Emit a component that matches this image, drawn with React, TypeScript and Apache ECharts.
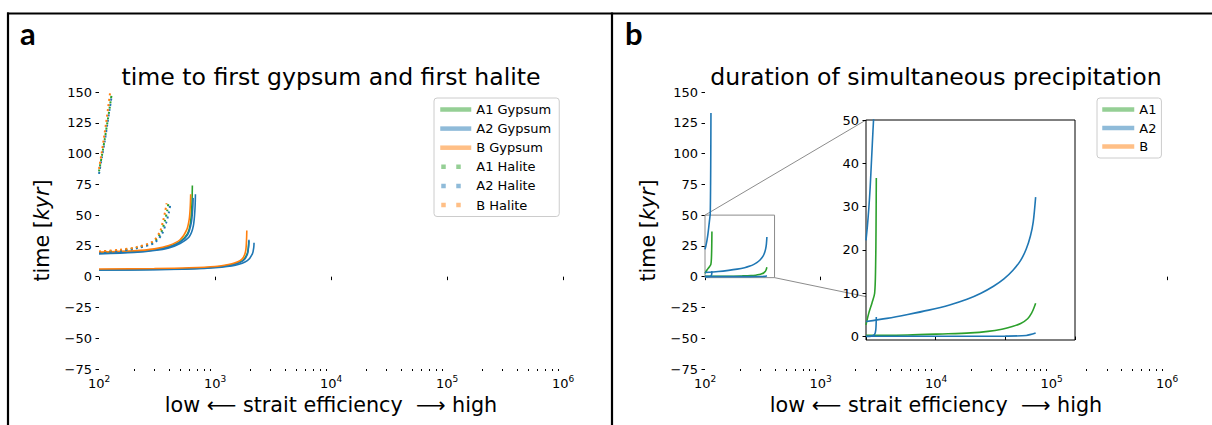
import React, { useEffect, useRef } from 'react';
import * as echarts from 'echarts';

type Pt = [number, number];

const FONT = 'DejaVu Sans';
const GREEN = '#2ca02c';
const BLUE = '#1f77b4';
const ORANGE = '#ff7f0e';

// ---- tick definitions ----
const xMin = 100;
const xMax = 1000000;
const yMin = -75;
const yMax = 150;
const yStep = 25;
const minorDecades = [100, 1000, 10000, 100000];
const minorMultipliers = [2, 3, 4, 5, 6, 7, 8, 9];
const insetXMin = 100;
const insetXMax = 400;
const insetXStep = 100;
const insetYMin = -0.8;
const insetYMax = 50;
const insetYTicks = [0, 10, 20, 30, 40, 50];

// ---- panel a: time to first gypsum (solid) ----
const gypHiA1: Pt[] = [[100, 19.3], [200, 20.3], [300, 22], [400, 24.5], [500, 28.5], [580, 35], [615, 44], [632, 58], [638, 74]];
const gypHiA2a: Pt[] = [[100, 19], [200, 20], [300, 21.6], [400, 24], [500, 28], [580, 34], [625, 44], [643, 56], [648, 64]];
const gypHiA2b: Pt[] = [[100, 18.5], [200, 19.6], [300, 21.2], [400, 23.4], [500, 27], [600, 32.5], [650, 41], [672, 55], [678, 67]];
const gypHiB: Pt[] = [[100, 20], [200, 21], [300, 22.6], [400, 25.3], [500, 30], [570, 38], [600, 47], [612, 57], [617, 67]];
const gypLoA1: Pt[] = [[100, 5.6], [300, 6], [600, 6.6], [1000, 7.8], [1400, 9.8], [1750, 13.5], [1900, 19], [1945, 25], [1955, 29]];
const gypLoA2a: Pt[] = [[100, 5.4], [300, 5.8], [600, 6.4], [1000, 7.6], [1400, 9.5], [1750, 13], [1900, 18], [1950, 25], [1962, 30]];
const gypLoA2b: Pt[] = [[100, 5.4], [300, 5.7], [600, 6.2], [1000, 7.2], [1500, 9.3], [1900, 13], [2100, 18.5], [2160, 24], [2170, 27.5]];
const gypLoB: Pt[] = [[100, 6.2], [300, 6.6], [600, 7.2], [1000, 8.3], [1400, 10.5], [1700, 14], [1830, 20], [1870, 30], [1880, 37.5]];

// ---- panel a: time to first halite (dotted) ----
const halLoA1: Pt[] = [[100, 20], [150, 21.3], [210, 23.5], [295, 28], [343, 36], [370, 45.5], [388, 54], [398, 61]];
const halLoA2: Pt[] = [[100, 19.5], [150, 20.8], [210, 23], [300, 27.5], [350, 35], [380, 44], [400, 52], [410, 57.5]];
const halLoB: Pt[] = [[100, 20.5], [150, 21.8], [210, 24], [290, 28.5], [335, 36.5], [358, 46], [372, 53], [383, 59.6]];
const halHiA1: Pt[] = [[100, 85.5], [106, 98.5], [112, 111.5], [118, 125], [124, 138], [128, 147]];
const halHiA2: Pt[] = [[100, 83.5], [106, 97], [112, 110], [118, 124], [124, 137], [129, 147.5]];
const halHiB: Pt[] = [[100, 87.5], [105, 99.5], [110, 112], [115, 124.5], [120, 137.5], [125, 150.5]];

// ---- panel b: duration of simultaneous precipitation ----
const durA2Steep: Pt[] = [[100, 22.2], [102, 25.5], [104, 29.5], [106, 34.5], [108, 41], [110, 47.5], [111, 51], [111.8, 75], [112.3, 105], [112.6, 133]];
const durA1Steep: Pt[] = [[100, 2.7], [104, 5.4], [108.5, 7.7], [112.4, 10], [113.8, 16.2], [114.4, 25], [114.8, 36.6]];
const durA2Spike: Pt[] = [[100, 0], [108, 0.1], [112, 0.4], [114, 1.5], [114.8, 4.5]];
const durA2Long: Pt[] = [[100, 3.46], [130, 4.2], [160, 5.1], [190, 6.1], [220, 7.3], [245, 8.6], [265, 10], [283, 11.6], [298, 13.3], [311, 15.3], [322, 17.6], [330, 20.2], [336, 23.2], [340, 26.4], [343.5, 32.2]];
const durA1Long: Pt[] = [[100, 0.3], [160, 0.35], [210, 0.6], [250, 0.85], [275, 1.2], [295, 1.7], [310, 2.3], [322, 3], [332, 4.1], [338, 5.5], [341, 6.6], [343.5, 7.7]];
const durA2Flat: Pt[] = [[100, 0.05], [200, 0.05], [300, 0.1], [330, 0.25], [343.5, 0.8]];
const durB: Pt[] = [];

const supDigits = (v: number) => `{b|10}{s|${Math.round(Math.log10(v))}}`;
const minusFmt = (v: number) => (v < 0 ? '\u2212' + Math.abs(v) : String(v));

const line = (name: string, data: Pt[], color: string, axis: number, dotted = false) => ({
  type: 'line',
  name,
  data,
  xAxisIndex: axis,
  yAxisIndex: axis,
  symbol: 'none',
  showSymbol: false,
  smooth: 0.3,
  clip: true,
  silent: true,
  lineStyle: dotted
    ? { color, width: 2, type: [2, 3.3] }
    : { color, width: 1.6, type: 'solid' },
  itemStyle: { color },
  emphasis: { disabled: true },
});

const mainX = (gridIndex: number) => ({
  gridIndex,
  type: 'log',
  logBase: 10,
  min: xMin,
  max: xMax,
  axisLine: { show: false },
  axisTick: { show: true, length: 3.5, lineStyle: { color: '#000', width: 1 } },
  splitLine: { show: false },
  minorTick: { show: false },
  axisLabel: {
    margin: 5,
    formatter: supDigits,
    rich: {
      b: { fontFamily: FONT, fontSize: 13, color: '#000', lineHeight: 16, verticalAlign: 'bottom' },
      s: { fontFamily: FONT, fontSize: 9, color: '#000', lineHeight: 9, verticalAlign: 'top' },
    },
  },
  name: 'low \u27F5 strait efficiency  \u27F6 high',
  nameLocation: 'middle',
  nameGap: 25,
  nameTextStyle: { fontFamily: FONT, fontSize: 20.7, color: '#000' },
});

const mainY = (gridIndex: number) => ({
  gridIndex,
  type: 'value',
  min: yMin,
  max: yMax,
  interval: yStep,
  axisLine: { show: false },
  axisTick: { show: true, length: 3.5, lineStyle: { color: '#000', width: 1 } },
  splitLine: { show: false },
  axisLabel: { margin: 7, formatter: minusFmt, fontFamily: FONT, fontSize: 13, color: '#000' },
  name: 'time [{i|kyr}]',
  nameLocation: 'middle',
  nameRotate: 90,
  nameGap: 47,
  nameTextStyle: {
    fontFamily: FONT,
    fontSize: 20.7,
    color: '#000',
    rich: { i: { fontFamily: FONT, fontSize: 20.7, fontStyle: 'italic', color: '#000' } },
  },
});

const legendBase = {
  orient: 'vertical',
  itemHeight: 14,
  itemGap: 5.5,
  borderColor: '#cccccc',
  borderWidth: 1,
  borderRadius: 3,
  backgroundColor: '#ffffff',
  selectedMode: false,
  textStyle: { fontFamily: FONT, fontSize: 13, color: '#000' },
};
const hideSym = { opacity: 0 };
const solidIcon = { width: 4.5, opacity: 0.5, type: 'solid' };
const dotIcon = { width: 4.5, opacity: 0.5, type: [4.5, 10.5], dashOffset: -1 };

const option: any = {
  animation: false,
  backgroundColor: '#ffffff',
  title: [
    { text: 'a', left: 20, top: 17, padding: 0, textStyle: { fontFamily: 'Lato', fontWeight: 'bold', fontSize: 31, color: '#000' } },
    { text: 'b', left: 625, top: 17, padding: 0, textStyle: { fontFamily: 'Lato', fontWeight: 'bold', fontSize: 31, color: '#000' } },
    {
      text: 'time to first gypsum and first halite',
      left: 331,
      textAlign: 'center',
      top: 65,
      padding: 0,
      textStyle: { fontFamily: FONT, fontSize: 23.6, fontWeight: 'normal', color: '#000' },
    },
    {
      text: 'duration of simultaneous precipitation',
      left: 936,
      textAlign: 'center',
      top: 65,
      padding: 0,
      textStyle: { fontFamily: FONT, fontSize: 23.6, fontWeight: 'normal', color: '#000' },
    },
  ],
  legend: [
    {
      ...legendBase,
      left: 434,
      top: 98,
      itemWidth: 31,
      itemGap: 6.1,
      padding: [5, 8, 5, 4],
      data: [
        { name: 'A1 Gypsum', lineStyle: solidIcon, itemStyle: hideSym },
        { name: 'A2 Gypsum', lineStyle: solidIcon, itemStyle: hideSym },
        { name: 'B Gypsum', lineStyle: solidIcon, itemStyle: hideSym },
        { name: 'A1 Halite', lineStyle: dotIcon, itemStyle: hideSym },
        { name: 'A2 Halite', lineStyle: dotIcon, itemStyle: hideSym },
        { name: 'B Halite', lineStyle: dotIcon, itemStyle: hideSym },
      ],
    },
    {
      ...legendBase,
      left: 1097,
      top: 98,
      itemWidth: 32,
      padding: [5, 5, 5, 3],
      data: [
        { name: 'A1', lineStyle: solidIcon, itemStyle: hideSym },
        { name: 'A2', lineStyle: solidIcon, itemStyle: hideSym },
        { name: 'B', lineStyle: solidIcon, itemStyle: hideSym },
      ],
    },
  ],
  grid: [
    { left: 99, top: 92, width: 464, height: 277 },
    { left: 705, top: 92, width: 462, height: 277 },
    { left: 866, top: 120, width: 209, height: 220, show: true, borderColor: '#000', borderWidth: 1, backgroundColor: '#fff', z: 5 },
  ],
  xAxis: [
    mainX(0),
    mainX(1),
    {
      gridIndex: 2,
      type: 'value',
      min: insetXMin,
      max: insetXMax,
      interval: insetXStep,
      axisLine: { show: false },
      axisTick: { show: true, length: 3.5, lineStyle: { color: '#000', width: 1 } },
      axisLabel: { show: false },
      splitLine: { show: false },
      z: 6,
    },
  ],
  yAxis: [
    mainY(0),
    mainY(1),
    {
      gridIndex: 2,
      type: 'value',
      min: insetYMin,
      max: insetYMax,
      axisLine: { show: false },
      axisTick: { show: true, length: 3.5, customValues: insetYTicks, lineStyle: { color: '#000', width: 1 } },
      axisLabel: { customValues: insetYTicks, margin: 7, fontFamily: FONT, fontSize: 13, color: '#000' },
      splitLine: { show: false },
      z: 6,
    },
  ],
  series: [
    line('A1 Gypsum', gypHiA1, GREEN, 0),
    line('A1 Gypsum', gypLoA1, GREEN, 0),
    line('A2 Gypsum', gypHiA2a, BLUE, 0),
    line('A2 Gypsum', gypHiA2b, BLUE, 0),
    line('A2 Gypsum', gypLoA2a, BLUE, 0),
    line('A2 Gypsum', gypLoA2b, BLUE, 0),
    line('B Gypsum', gypHiB, ORANGE, 0),
    line('B Gypsum', gypLoB, ORANGE, 0),
    line('A1 Halite', halLoA1, GREEN, 0, true),
    line('A1 Halite', halHiA1, GREEN, 0, true),
    line('A2 Halite', halLoA2, BLUE, 0, true),
    line('A2 Halite', halHiA2, BLUE, 0, true),
    line('B Halite', halLoB, ORANGE, 0, true),
    line('B Halite', halHiB, ORANGE, 0, true),

    line('A1', durA1Steep, GREEN, 1),
    line('A1', durA1Long, GREEN, 1),
    line('A2', durA2Steep, BLUE, 1),
    line('A2', durA2Spike, BLUE, 1),
    line('A2', durA2Long, BLUE, 1),
    line('A2', durA2Flat, BLUE, 1),
    line('B', durB, ORANGE, 1),

    { ...line('A1', durA1Steep, GREEN, 2), z: 7 },
    { ...line('A1', durA1Long, GREEN, 2), z: 7 },
    { ...line('A2', durA2Steep, BLUE, 2), z: 7 },
    { ...line('A2', durA2Spike, BLUE, 2), z: 7 },
    { ...line('A2', durA2Long, BLUE, 2), z: 7 },
    { ...line('A2', durA2Flat, BLUE, 2), z: 7 },
    { ...line('B', durB, ORANGE, 2), z: 7 },
  ],
};

export default function App() {
  const ref = useRef<HTMLDivElement>(null);
  useEffect(() => {
    const chart = echarts.init(ref.current as HTMLDivElement, null, { renderer: 'svg' });
    chart.setOption(option);

    const g: any[] = [];
    const border = { stroke: '#000', lineWidth: 2.2 };
    g.push({ type: 'line', shape: { x1: 7, y1: 13.5, x2: 1212, y2: 13.5 }, style: border, z: 20 });
    g.push({ type: 'line', shape: { x1: 8, y1: 12.4, x2: 8, y2: 425 }, style: border, z: 20 });
    g.push({ type: 'line', shape: { x1: 612, y1: 12.4, x2: 612, y2: 425 }, style: border, z: 20 });

    // minor ticks on log axes
    [0, 1].forEach((ai) => {
      minorDecades.forEach((d) => {
        minorMultipliers.forEach((m) => {
          const p = chart.convertToPixel({ xAxisIndex: ai, yAxisIndex: ai }, [d * m, yMin]) as number[];
          const x = Math.round(p[0]) + 0.5;
          const y = Math.round(p[1]);
          g.push({ type: 'line', silent: true, shape: { x1: x, y1: y, x2: x, y2: y + 2 }, style: { stroke: '#000', lineWidth: 1 } });
        });
      });
    });

    // inset indicator rectangle and connectors
    const r1 = chart.convertToPixel({ xAxisIndex: 1, yAxisIndex: 1 }, [insetXMin, insetYMax]) as number[];
    const r2 = chart.convertToPixel({ xAxisIndex: 1, yAxisIndex: 1 }, [insetXMax, insetYMin]) as number[];
    const i1 = chart.convertToPixel({ xAxisIndex: 2, yAxisIndex: 2 }, [insetXMin, insetYMax]) as number[];
    const i2 = chart.convertToPixel({ xAxisIndex: 2, yAxisIndex: 2 }, [insetXMax, insetYMin]) as number[];
    const gray = { stroke: '#8c8c8c', lineWidth: 1, fill: 'none' };
    g.push({ type: 'rect', silent: true, shape: { x: r1[0], y: r1[1], width: r2[0] - r1[0], height: r2[1] - r1[1] }, style: gray, z: 3 });
    g.push({ type: 'line', silent: true, shape: { x1: r1[0], y1: r1[1], x2: i1[0], y2: i1[1] }, style: gray, z: 3 });
    const t = (i1[0] - r2[0]) / (i2[0] - r2[0]);
    g.push({ type: 'line', silent: true, shape: { x1: r2[0], y1: r2[1], x2: i1[0], y2: r2[1] + t * (i2[1] - r2[1]) }, style: gray, z: 3 });

    chart.setOption({ graphic: g });
    return () => chart.dispose();
  }, []);
  return (
    <div
      ref={ref}
      style={{ position: 'absolute', left: 0, top: 0, width: 1212, height: 425, background: '#fff' }}
    />
  );
}
